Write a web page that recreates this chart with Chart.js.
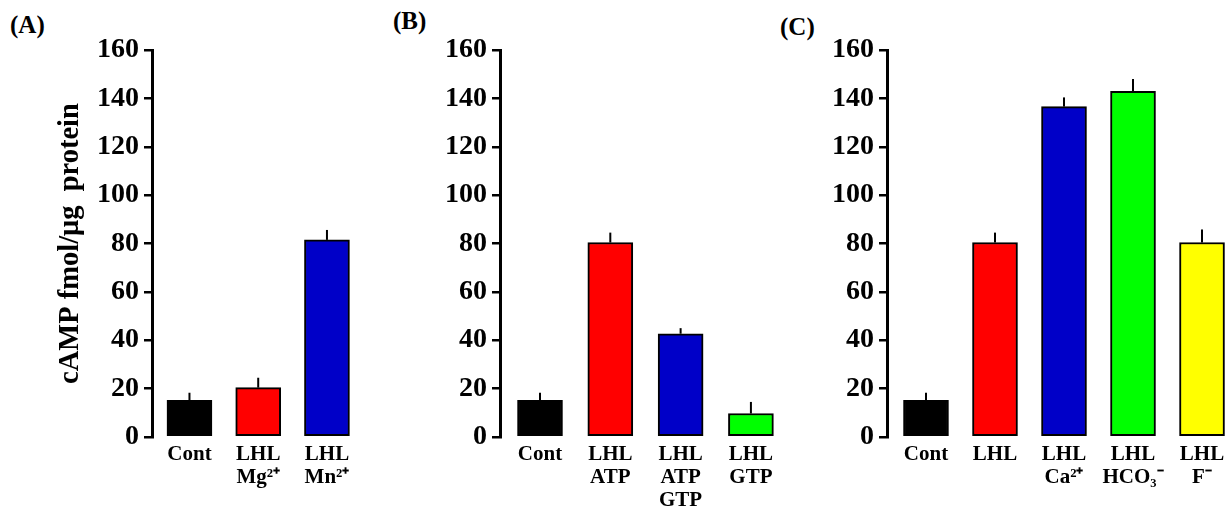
<!DOCTYPE html>
<html>
<head>
<meta charset="utf-8">
<script src="https://cdn.jsdelivr.net/npm/chart.js@4.4.0/dist/chart.umd.min.js"></script>
<style>
  html, body { margin: 0; padding: 0; background: #fff; }
  body { width: 1231px; height: 511px; position: relative; overflow: hidden; }
  .panel { position: absolute; top: 0; height: 511px; }
  .tag { position: absolute; font: bold 25px 'Liberation Serif', 'Times New Roman', serif; color: #000; }
</style>
</head>
<body>
<div class="tag" style="left:10px;top:11px">(A)</div>
<div class="tag" style="left:393px;top:7px">(B)</div>
<div class="tag" style="left:780px;top:13px">(C)</div>

<div class="panel" style="left:0px;width:368px"><canvas id="chartA"></canvas></div>
<div class="panel" style="left:390px;width:396px"><canvas id="chartB"></canvas></div>
<div class="panel" style="left:800px;width:431px"><canvas id="chartC"></canvas></div>

<script>
// panel A
const labelsA = [['Cont'], ['LHL', 'Mg²⁺'], ['LHL', 'Mn²⁺']];
const valuesA = [15.2, 20.4, 81.5];
const errorsA = [3.1, 4.1, 4.1];
const colorsA = ['#000000', '#ff0000', '#0000c8'];

// panel B
const labelsB = [['Cont'], ['LHL', 'ATP'], ['LHL', 'ATP', 'GTP'], ['LHL', 'GTP']];
const valuesB = [15.2, 80.4, 42.7, 9.7];
const errorsB = [3.1, 4.1, 2.3, 4.8];
const colorsB = ['#000000', '#ff0000', '#0000c8', '#00ff00'];

// panel C
const labelsC = [['Cont'], ['LHL'], ['LHL', 'Ca²⁺'], ['LHL', 'HCO₃⁻'], ['LHL', 'F⁻']];
const valuesC = [15.2, 80.4, 136.6, 142.9, 80.4];
const errorsC = [3.1, 4.1, 3.8, 5.1, 5.4];
const colorsC = ['#000000', '#ff0000', '#0000c8', '#00ff00', '#ffff00'];

const yTicks = { min: 0, max: 160, step: 20 };
const serif = "'Liberation Serif', 'Times New Roman', serif";

// upward-only error bars, drawn through the y scale
const errorBars = {
  id: 'errorBars',
  afterDatasetsDraw(chart, args, opts) {
    const ctx = chart.ctx;
    const y = chart.scales.y;
    const ds = chart.data.datasets[0];
    chart.getDatasetMeta(0).data.forEach((bar, i) => {
      const top = y.getPixelForValue(ds.data[i].y + opts.errors[i]);
      ctx.save();
      ctx.strokeStyle = '#000';
      ctx.lineWidth = 2;
      ctx.beginPath();
      ctx.moveTo(bar.x, bar.y);
      ctx.lineTo(bar.x, top);
      ctx.stroke();
      ctx.restore();
    });
  }
};

function makePanel(id, labels, values, errors, colors, layout) {
  return new Chart(document.getElementById(id), {
    type: 'bar',
    data: {
      datasets: [{
        data: values.map((v, i) => ({ x: i, y: v })),
        backgroundColor: colors,
        borderColor: '#000',
        borderWidth: 2,
        borderSkipped: false,
        barThickness: 45
      }]
    },
    plugins: [errorBars],
    options: {
      responsive: true,
      maintainAspectRatio: false,
      animation: false,
      layout: { padding: { top: 50, left: 0, right: 0, bottom: 0 } },
      plugins: {
        legend: { display: false },
        tooltip: { enabled: false },
        errorBars: { errors: errors }
      },
      scales: {
        x: {
          type: 'linear',
          offset: false,
          min: layout.xMin,
          max: layout.xMax,
          grid: { display: false, drawTicks: false, offset: false },
          border: { display: false },
          afterBuildTicks: s => { s.ticks = labels.map((_, i) => ({ value: i })); },
          afterFit: s => { s.height = 74; s.paddingLeft = 0; s.paddingRight = 0; },
          ticks: {
            callback: v => labels[v],
            autoSkip: false,
            maxRotation: 0,
            color: '#000',
            padding: 6,
            font: { family: serif, size: 21, weight: 'bold', lineHeight: 1.1 }
          }
        },
        y: {
          min: yTicks.min,
          max: yTicks.max,
          ticks: {
            stepSize: yTicks.step,
            color: '#000',
            padding: 5,
            font: { family: serif, size: 28, weight: 'bold' }
          },
          grid: { drawOnChartArea: false, drawTicks: true, tickLength: 8, color: '#000', lineWidth: 2.5 },
          border: { display: true, color: '#000', width: 3 },
          afterFit: s => { s.width = layout.yWidth; s.paddingTop = 0; s.paddingBottom = 0; },
          title: {
            display: !!layout.title,
            text: layout.title || '',
            color: '#000',
            padding: { top: 54, bottom: 0 },
            font: { family: serif, size: 28.5, weight: 'bold' }
          }
        }
      }
    }
  });
}

makePanel('chartA', labelsA, valuesA, errorsA, colorsA,
  { yWidth: 152, xMin: -0.545, xMax: 2.597, title: 'cAMP fmol/μg  protein' });
makePanel('chartB', labelsB, valuesB, errorsB, colorsB,
  { yWidth: 110, xMin: -0.569, xMax: 3.499 });
makePanel('chartC', labelsC, valuesC, errorsC, colorsC,
  { yWidth: 87, xMin: -0.565, xMax: 4.42 });
</script>
</body>
</html>
